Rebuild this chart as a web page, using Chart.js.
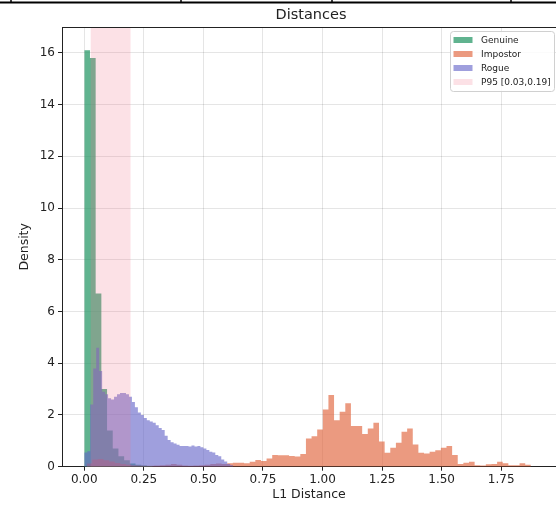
<!DOCTYPE html>
<html>
<head>
<meta charset="utf-8">
<script src="https://cdn.jsdelivr.net/npm/chart.js@4.4.1/dist/chart.umd.min.js"></script>
<style>
  html, body { margin: 0; padding: 0; background: #fff; overflow: hidden; }
  #wrap { position: relative; width: 556px; height: 505px; }
</style>
</head>
<body>
<div id="wrap"><canvas id="histChart" width="556" height="505"></canvas></div>
<script>
// series names
const seriesLabels = ["Genuine", "Impostor", "Rogue"];
const bandLabel = "P95 [0.03,0.19]";

// histogram bins: first edge, bin width, density per bin
const genuineStart = 0.0;
const genuineBinWidth = 0.0239;
const genuineDensity = [16.1, 15.8, 6.7, 3.0, 1.4, 0.7, 0.4, 0.25, 0.12, 0.08, 0.05, 0.03];

const impostorStart = 0.01;
const impostorBinWidth = 0.0236;
const impostorDensity = [
  0.12, 0.28, 0.3, 0.25, 0.2, 0.14, 0.1, 0.08, 0.06, 0.05, 0.04, 0.04, 0.05,
  0.06, 0.08, 0.1, 0.08, 0.05, 0.04, 0.05, 0.06, 0.08, 0.1, 0.12, 0.1,
  0.13, 0.15, 0.15, 0.13, 0.19, 0.26, 0.22, 0.32, 0.45, 0.44, 0.44, 0.41, 0.39, 0.49,
  1.09, 1.18, 1.44, 2.21, 2.77, 1.8, 2.12, 2.45, 1.57, 1.57, 1.26, 1.48, 1.7, 0.97,
  0.54, 0.73, 0.93, 1.35, 1.48, 0.86, 0.54, 0.51, 0.58, 0.64, 0.73, 0.8, 0.45,
  0.1, 0.15, 0.19, 0.06, 0.05, 0.09, 0.1, 0.19, 0.13, 0.06, 0.06, 0.13, 0.08
];

const rogueStart = 0.0;
const rogueBinWidth = 0.0125;
const rogueDensity = [
  0.55, 0.6, 2.4, 3.8, 4.6, 3.7, 2.9, 2.8, 2.65, 2.6,
  2.7, 2.8, 2.85, 2.85, 2.8, 2.7, 2.5, 2.3, 2.1, 2.0,
  1.88, 1.8, 1.75, 1.7, 1.6, 1.5, 1.42, 1.2, 1.03, 0.95,
  0.9, 0.85, 0.8, 0.8, 0.8, 0.78, 0.82, 0.78, 0.8, 0.75,
  0.7, 0.65, 0.58, 0.55, 0.45, 0.4, 0.28, 0.2, 0.1, 0.06
];

// shaded P95 interval
const p95Range = [0.026, 0.195];

// axis ticks
const xTicks = [0, 0.25, 0.5, 0.75, 1.0, 1.25, 1.5, 1.75];
const yTicks = [0, 2, 4, 6, 8, 10, 12, 14, 16];
const xMin = -0.0935, xMax = 1.98, yMax = 17;

const colGenuine = "rgba(35,150,100,0.72)";
const colImpostor = "rgba(225,100,60,0.65)";
const colRogue = "rgba(100,100,200,0.62)";
const colBand = "rgba(240,120,140,0.22)";
const inkColor = "#222";
const gridColor = "rgba(0,0,0,0.1)";

Chart.defaults.font.family = "DejaVu Sans";

function histPoints(start, width, heights) {
  const pts = heights.map((h, i) => ({ x: start + i * width, y: h }));
  pts.push({ x: start + heights.length * width, y: heights[heights.length - 1] });
  return pts;
}

function histDataset(label, start, width, heights, color, order) {
  return {
    label: label,
    data: histPoints(start, width, heights),
    stepped: "before",
    fill: "origin",
    backgroundColor: color,
    borderColor: "transparent",
    borderWidth: 0,
    pointRadius: 0,
    order: order,
  };
}

// title, frame, legend and the page rule on top
const decorations = {
  id: "decorations",
  beforeDraw(chart) {
    const c = chart.ctx;
    c.save();
    c.fillStyle = "#fff";
    c.fillRect(0, 0, chart.width, chart.height);
    c.restore();
  },
  afterDraw(chart) {
    const c = chart.ctx;
    const a = chart.chartArea;
    c.save();
    // page rule cut at top
    c.strokeStyle = "#000";
    c.lineWidth = 2;
    c.beginPath();
    c.moveTo(0, 2.5);
    c.lineTo(chart.width, 2.5);
    c.stroke();
    c.lineWidth = 1.5;
    [11, 181, 332, 511].forEach(x => {
      c.beginPath();
      c.moveTo(x, 0);
      c.lineTo(x, 3);
      c.stroke();
    });
    // top spine
    c.strokeStyle = inkColor;
    c.lineWidth = 1;
    c.beginPath();
    c.moveTo(a.left, a.top + 0.5);
    c.lineTo(a.right, a.top + 0.5);
    c.stroke();
    // title
    c.fillStyle = inkColor;
    c.font = "14.5px 'DejaVu Sans'";
    c.textAlign = "center";
    c.textBaseline = "middle";
    c.fillText("Distances", 311, 15.5);
    // legend
    const bx = 450, by = 31, bw = 104, bh = 60;
    c.fillStyle = "rgba(255,255,255,0.85)";
    c.strokeStyle = "#d0d0d0";
    c.lineWidth = 1;
    c.beginPath();
    c.roundRect(bx + 0.5, by + 0.5, bw, bh, 3);
    c.fill();
    c.stroke();
    const items = [
      [seriesLabels[0], colGenuine],
      [seriesLabels[1], colImpostor],
      [seriesLabels[2], colRogue],
      [bandLabel, colBand],
    ];
    c.font = "9px 'DejaVu Sans'";
    c.textAlign = "left";
    items.forEach((it, i) => {
      const cy = 40 + i * 14;
      c.fillStyle = it[1];
      c.fillRect(453.5, cy - 3, 19, 6);
      c.fillStyle = inkColor;
      c.fillText(it[0], 481, cy + 0.5);
    });
    c.restore();
  },
};

const tickFont = { size: 12, family: "DejaVu Sans" };
const labelFont = { size: 12.5, family: "DejaVu Sans" };

new Chart(document.getElementById("histChart"), {
  type: "line",
  data: {
    datasets: [
      {
        label: bandLabel,
        data: [{ x: p95Range[0], y: yMax }, { x: p95Range[1], y: yMax }],
        fill: "origin",
        backgroundColor: colBand,
        borderColor: "transparent",
        borderWidth: 0,
        pointRadius: 0,
        order: 0,
      },
      histDataset(seriesLabels[2], rogueStart, rogueBinWidth, rogueDensity, colRogue, 1),
      histDataset(seriesLabels[1], impostorStart, impostorBinWidth, impostorDensity, colImpostor, 2),
      histDataset(seriesLabels[0], genuineStart, genuineBinWidth, genuineDensity, colGenuine, 3),
    ],
  },
  options: {
    responsive: false,
    animation: false,
    devicePixelRatio: 1,
    layout: { padding: { top: 27, left: 0, right: 0, bottom: 0 } },
    plugins: {
      legend: { display: false },
      title: { display: false },
      tooltip: { enabled: false },
    },
    scales: {
      x: {
        type: "linear",
        min: xMin,
        max: xMax,
        afterBuildTicks: s => { s.ticks = xTicks.map(v => ({ value: v })); },
        afterFit: s => { s.height = 38.3; },
        ticks: {
          font: tickFont,
          color: inkColor,
          padding: 2,
          maxRotation: 0,
          autoSkip: false,
          callback: v => Number(v).toFixed(2),
        },
        grid: { color: gridColor, tickColor: inkColor, tickLength: 4 },
        border: { color: inkColor, width: 1 },
        title: { display: true, text: "L1 Distance", font: labelFont, color: inkColor, padding: { top: 0, bottom: 3 } },
      },
      y: {
        min: 0,
        max: yMax,
        afterBuildTicks: s => { s.ticks = yTicks.map(v => ({ value: v })); },
        afterFit: s => { s.width = 62; },
        ticks: { font: tickFont, color: inkColor, padding: 3 },
        grid: { color: gridColor, tickColor: inkColor, tickLength: 4 },
        border: { color: inkColor, width: 1 },
        title: { display: true, text: "Density", font: labelFont, color: inkColor, padding: { top: 17, bottom: 0 } },
      },
    },
  },
  plugins: [decorations],
});
</script>
</body>
</html>
